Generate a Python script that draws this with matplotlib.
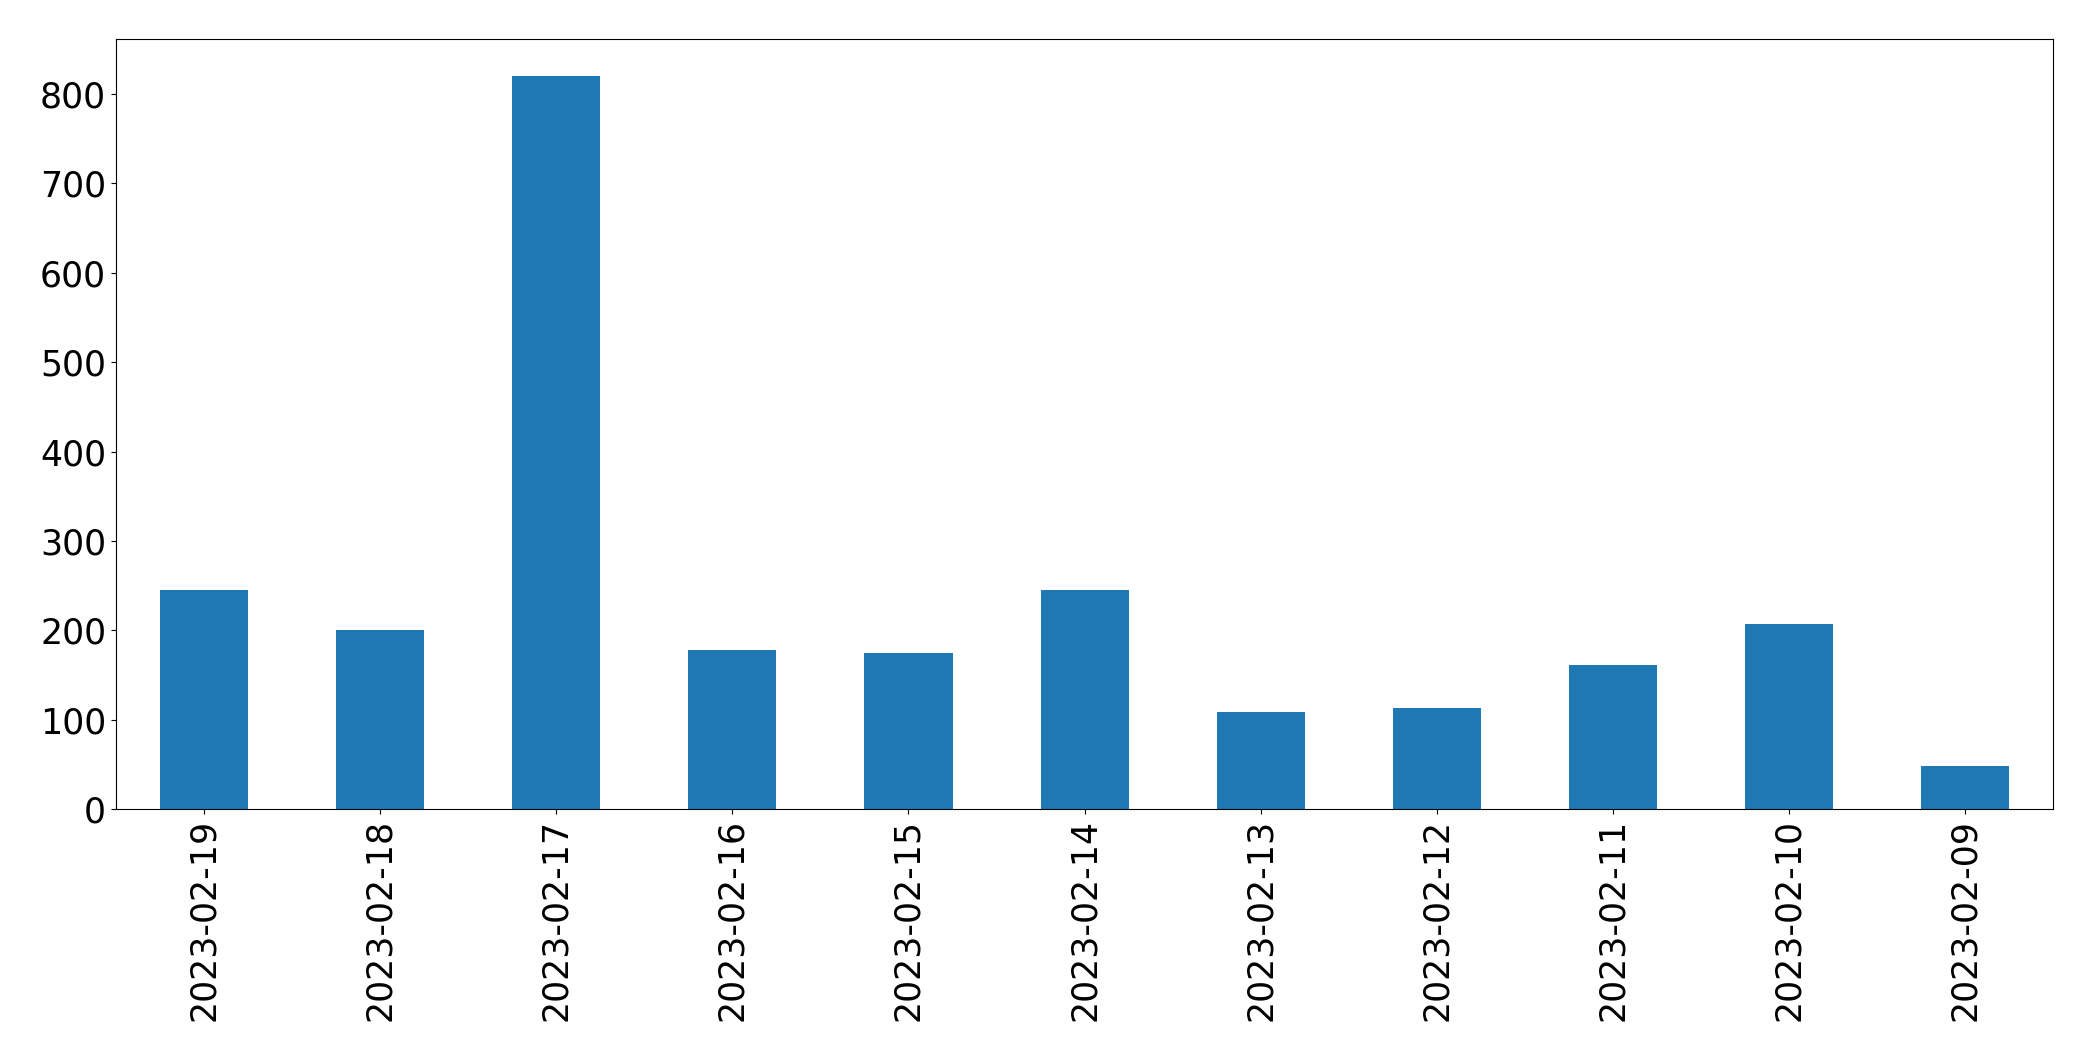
import matplotlib
matplotlib.use("Agg")
import matplotlib.pyplot as plt

dates = ['2023-02-19', '2023-02-18', '2023-02-17', '2023-02-16', '2023-02-15', '2023-02-14',
         '2023-02-13', '2023-02-12', '2023-02-11', '2023-02-10', '2023-02-09']
counts = [245, 200, 820, 178, 175, 245, 109, 113, 161, 207, 48]

fig = plt.figure(figsize=(20.93, 10.61), dpi=100)
ax = fig.add_axes([0.0554, 0.2372, 0.9810 - 0.0554, 0.963 - 0.2372])

x = list(range(len(dates)))
ax.bar(x, counts, width=0.5, color='#1f77b4')
ax.set_xlim(-0.5, len(dates) - 0.5)
ax.set_ylim(0, max(counts) * 1.05)
ax.set_xticks(x)
ax.set_xticklabels(dates, rotation=90)
ax.tick_params(labelsize=25)

fig.savefig('out.png', dpi=100)
